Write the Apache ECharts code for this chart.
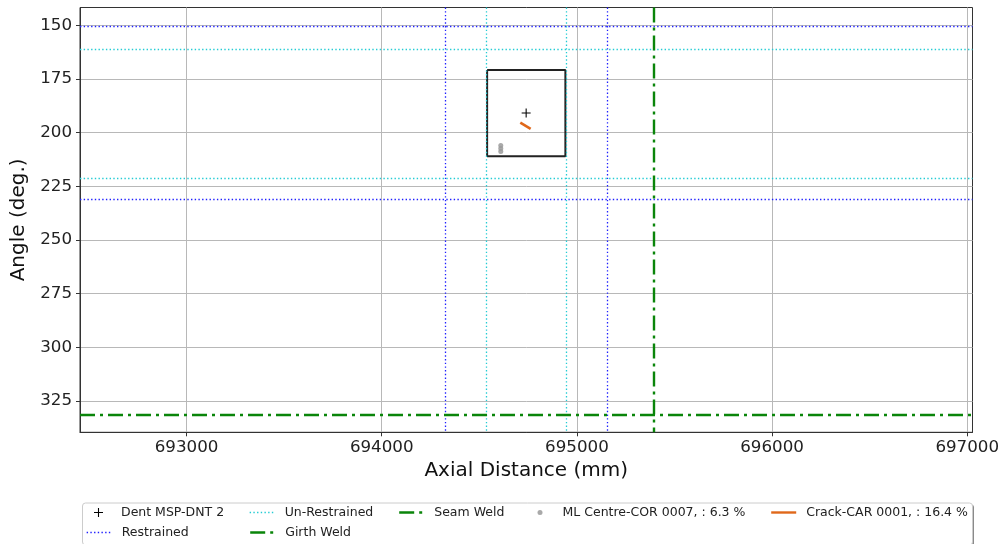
<!DOCTYPE html>
<html>
<head>
<meta charset="utf-8">
<script src="https://cdn.jsdelivr.net/npm/echarts@6/dist/echarts.min.js"></script>
<style>
  html, body { margin: 0; padding: 0; background: #ffffff; }
  #chart { width: 1003px; height: 544px; }
</style>
</head>
<body>
<div id="chart"></div>
<script>
// Axis ticks
const xTicks = [693000, 694000, 695000, 696000, 697000];
const yTicks = [150, 175, 200, 225, 250, 275, 300, 325];

// Feature data (axial distance in mm, angle in degrees)
const dentPoint = [[694740, 190.8]];
const dentBoxAxial = [694540, 694941];
const dentBoxAngle = [170.8, 211.0];
const restrainedAxial = [694326, 695154];
const restrainedAngle = [150.4, 231.2];
const unrestrainedAxial = [694533, 694946];
const unrestrainedAngle = [160.9, 221.1];
const girthWeldAxial = [695395];
const seamWeldAngle = [331.6];
const mlCentrePoints = [[694610, 205.9], [694610, 207.4], [694610, 208.8]];
const crackLine = [[694710, 195.3], [694763, 198.2]];

const FONT = 'DejaVu Sans';
const BLUE = '#2020ff';
const CYAN = '#24ccd4';
const GREEN = '#0a850a';
const ORANGE = '#e0681a';
const GREY = '#9a9a9a';
const DOTTED = [1.4, 2.3];
const DASHDOT = [15, 5, 3, 5];
const PLUS = 'path://M4.4,0H5.6V4.4H10V5.6H5.6V10H4.4V5.6H0V4.4H4.4Z';

// Closed outline of the dent box
const boxOutline = [
  [dentBoxAxial[0], dentBoxAngle[0]],
  [dentBoxAxial[1], dentBoxAngle[0]],
  [dentBoxAxial[1], dentBoxAngle[1]],
  [dentBoxAxial[0], dentBoxAngle[1]],
  [dentBoxAxial[0], dentBoxAngle[0]]
];

function refLines(name, color, width, dash, xs, ys) {
  const data = [];
  ys.forEach(v => data.push({ yAxis: v }));
  xs.forEach(v => data.push({ xAxis: v }));
  return {
    name: name, type: 'line', data: [], symbol: 'none',
    lineStyle: { color: color, width: width, type: dash },
    itemStyle: { color: color },
    markLine: {
      silent: true, symbol: ['none', 'none'], label: { show: false },
      emphasis: { disabled: true }, animation: false,
      lineStyle: { color: color, width: width, type: dash },
      data: data
    }
  };
}

function legendItem(name, left, top, extra) {
  return Object.assign({
    data: [name], left: left, top: top, padding: 0, orient: 'horizontal',
    itemWidth: 25, itemHeight: 14, itemGap: 0, selectedMode: false,
    textStyle: { fontFamily: FONT, fontSize: 12.5, color: '#222', lineHeight: 15, padding: [0, 0, 0, 5] }
  }, extra || {});
}

const ROW1 = 505, ROW2 = 525;

const option = {
  animation: false,
  backgroundColor: '#ffffff',
  grid: { left: 80, right: 30.5, top: 7.5, bottom: 111.7, show: true, borderColor: '#333', borderWidth: 1, backgroundColor: 'transparent' },
  xAxis: {
    type: 'value', min: 692454, max: 697027,
    name: 'Axial Distance (mm)', nameLocation: 'middle', nameGap: 27,
    nameTextStyle: { fontFamily: FONT, fontSize: 20, color: '#111' },
    axisLine: { show: true, onZero: false, lineStyle: { color: '#333', width: 1 } },
    axisTick: { show: true, length: 4, customValues: xTicks, lineStyle: { color: '#333' } },
    axisLabel: { customValues: xTicks, formatter: v => String(v), fontFamily: FONT, fontSize: 16.7, color: '#222', margin: 7 },
    splitLine: { show: true, lineStyle: { color: '#b8b8b8', width: 1 } }
  },
  yAxis: {
    type: 'value', inverse: true, min: 141.6, max: 339.7,
    name: 'Angle (deg.)', nameLocation: 'middle', nameGap: 42, nameRotate: 90,
    nameTextStyle: { fontFamily: FONT, fontSize: 20, color: '#111' },
    axisLine: { show: true, onZero: false, lineStyle: { color: '#333', width: 1 } },
    axisTick: { show: true, length: 4, customValues: yTicks, lineStyle: { color: '#333' } },
    axisLabel: { customValues: yTicks, formatter: v => String(v), fontFamily: FONT, fontSize: 16.7, color: '#222', margin: 8 },
    splitLine: { show: true, lineStyle: { color: '#b8b8b8', width: 1 } }
  },
  graphic: [
    // legend frame: offset shadow first, then the white box on top
    {
      type: 'rect', left: 84, top: 504.5, z: 0,
      shape: { width: 890, height: 42, r: 3 },
      style: { fill: '#8a8a8a', stroke: null }
    },
    {
      type: 'rect', left: 82, top: 502.5, z: 1,
      shape: { width: 890, height: 42, r: 3 },
      style: { fill: '#ffffff', stroke: '#cccccc', lineWidth: 1 }
    }
  ],
  legend: [
    legendItem('Dent MSP-DNT 2', 94, ROW1, { itemHeight: 9 }),
    legendItem('Restrained', 86, ROW2, { itemStyle: { opacity: 0 }, lineStyle: { width: 1.3 } }),
    legendItem('Un-Restrained', 249, ROW1, { itemStyle: { opacity: 0 }, lineStyle: { width: 1.3 } }),
    legendItem('Girth Weld', 249, ROW2, { itemStyle: { opacity: 0 }, lineStyle: { width: 2.4 } }),
    legendItem('Seam Weld', 398, ROW1, { itemStyle: { opacity: 0 }, lineStyle: { width: 2.4 } }),
    legendItem('ML Centre-COR 0007, : 6.3 %', 537.5, ROW1, { itemHeight: 5 }),
    legendItem('Crack-CAR 0001, : 16.4 %', 770, ROW1, { itemStyle: { opacity: 0 }, lineStyle: { width: 2.4 } })
  ],
  series: [
    {
      name: 'Dent box', type: 'line', data: boxOutline, symbol: 'none', silent: true,
      lineStyle: { color: '#222', width: 2 }, z: 3
    },
    {
      name: 'Dent MSP-DNT 2', type: 'scatter', data: dentPoint, symbol: PLUS, symbolSize: 9,
      symbolKeepAspect: true, itemStyle: { color: '#000', opacity: 1 }, z: 5
    },
    refLines('Restrained', BLUE, 1.3, DOTTED, restrainedAxial, restrainedAngle),
    refLines('Un-Restrained', CYAN, 1.3, DOTTED, unrestrainedAxial, unrestrainedAngle),
    refLines('Girth Weld', GREEN, 2.4, DASHDOT, girthWeldAxial, []),
    refLines('Seam Weld', GREEN, 2.4, DASHDOT, [], seamWeldAngle),
    {
      name: 'ML Centre-COR 0007, : 6.3 %', type: 'scatter', data: mlCentrePoints, symbol: 'circle', symbolSize: 5,
      itemStyle: { color: GREY, opacity: 0.85 }, z: 4
    },
    {
      name: 'Crack-CAR 0001, : 16.4 %', type: 'line', data: crackLine, symbol: 'none',
      lineStyle: { color: ORANGE, width: 2.6 }, itemStyle: { color: ORANGE }, z: 4
    }
  ]
};

const chart = echarts.init(document.getElementById('chart'), null, { renderer: 'canvas' });
chart.setOption(option);
</script>
</body>
</html>
